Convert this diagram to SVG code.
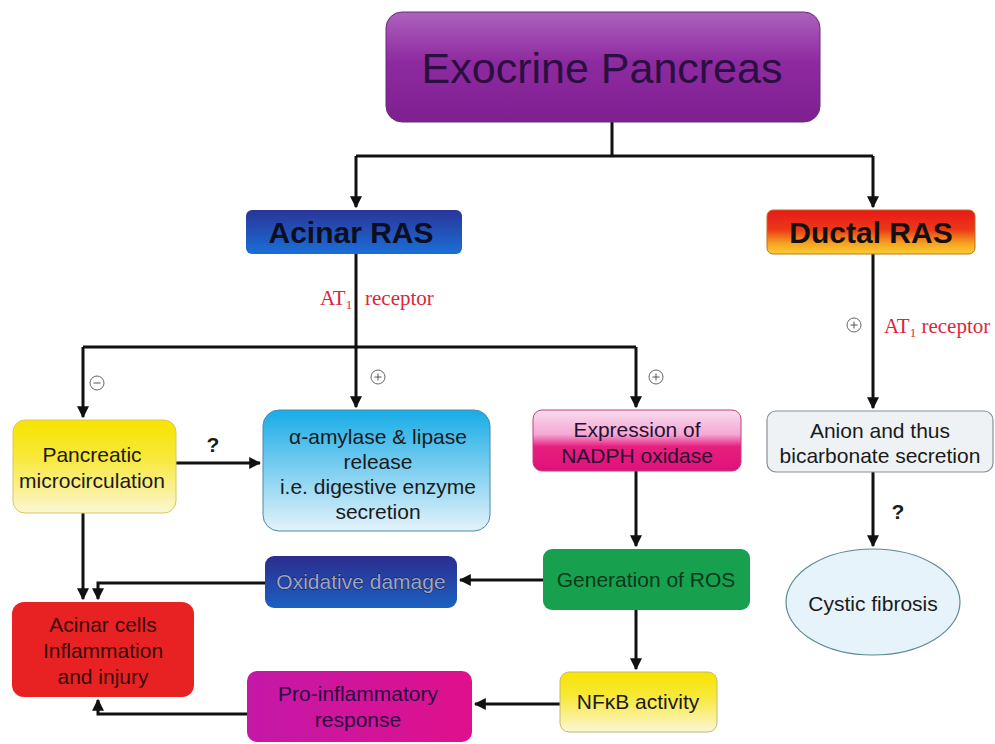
<svg xmlns="http://www.w3.org/2000/svg" width="995" height="744" viewBox="0 0 995 744">
<defs>
<linearGradient id="gPurple" x1="0" y1="0" x2="0" y2="1"><stop offset="0" stop-color="#ad62bd"/><stop offset="0.45" stop-color="#8e2aa0"/><stop offset="1" stop-color="#7e2090"/></linearGradient>
<linearGradient id="gAcinar" x1="0" y1="0" x2="0" y2="1"><stop offset="0" stop-color="#2a3598"/><stop offset="1" stop-color="#1a6fd8"/></linearGradient>
<linearGradient id="gDuctal" x1="0" y1="0" x2="0" y2="1"><stop offset="0" stop-color="#e81818"/><stop offset="0.45" stop-color="#ec3a18"/><stop offset="0.75" stop-color="#f5a020"/><stop offset="1" stop-color="#f8d030"/></linearGradient>
<linearGradient id="gYellow" x1="0" y1="0" x2="0" y2="1"><stop offset="0" stop-color="#f7e400"/><stop offset="0.4" stop-color="#f8e838"/><stop offset="1" stop-color="#fcf6d6"/></linearGradient>
<linearGradient id="gSky" x1="0" y1="0" x2="0" y2="1"><stop offset="0" stop-color="#18ace6"/><stop offset="1" stop-color="#e4f3fb"/></linearGradient>
<linearGradient id="gPink" x1="0" y1="0" x2="0" y2="1"><stop offset="0" stop-color="#f9dcef"/><stop offset="0.4" stop-color="#f4a8d4"/><stop offset="0.6" stop-color="#e6207f"/><stop offset="1" stop-color="#e0107a"/></linearGradient>
<linearGradient id="gNavy" x1="0" y1="0" x2="0" y2="1"><stop offset="0" stop-color="#2c2c8e"/><stop offset="1" stop-color="#1a62c2"/></linearGradient>
<linearGradient id="gMagenta" x1="0" y1="0" x2="1" y2="0"><stop offset="0" stop-color="#c418a8"/><stop offset="1" stop-color="#e0108c"/></linearGradient>
<marker id="arr" viewBox="0 0 10 10" refX="9" refY="5" markerWidth="4" markerHeight="4" orient="auto" markerUnits="strokeWidth"><path d="M0,0 L10,5 L0,10 z" fill="#111"/></marker>
</defs>
<style>
.t{font-family:"Liberation Sans",Arial,sans-serif;fill:#1a1a1a;text-anchor:middle;}
.b{font-size:21px;}
.edge{stroke:#111;stroke-width:3;fill:none;}
.red{font-family:"Liberation Serif","Times New Roman",serif;fill:#d8283a;font-size:21px;}
.sign{fill:#fff;stroke:#666;stroke-width:1;}
</style>
<rect width="995" height="744" fill="#fff"/>

<g id="connectors">
<path class="edge" d="M612,122 V156 M356,156 H873"/>
<path class="edge" d="M356,156 V207" marker-end="url(#arr)"/>
<path class="edge" d="M873,156 V207" marker-end="url(#arr)"/>
<path class="edge" d="M356,254 V347 M83,347 H636"/>
<path class="edge" d="M83,347 V417" marker-end="url(#arr)"/>
<path class="edge" d="M356,347 V407" marker-end="url(#arr)"/>
<path class="edge" d="M636,347 V407" marker-end="url(#arr)"/>
<path class="edge" d="M176,463 H260" marker-end="url(#arr)"/>
<path class="edge" d="M636,471 V546" marker-end="url(#arr)"/>
<path class="edge" d="M543,580 H460" marker-end="url(#arr)"/>
<path class="edge" d="M265,583 H98 V599" marker-end="url(#arr)"/>
<path class="edge" d="M83,513 V599" marker-end="url(#arr)"/>
<path class="edge" d="M636,610 V669" marker-end="url(#arr)"/>
<path class="edge" d="M560,704 H475" marker-end="url(#arr)"/>
<path class="edge" d="M247,714 H98 V700" marker-end="url(#arr)"/>
<path class="edge" d="M873,254 V408" marker-end="url(#arr)"/>
<path class="edge" d="M873,472 V546" marker-end="url(#arr)"/>
</g>

<g id="labels">
<text class="red" x="320" y="305">AT<tspan font-size="13" dy="4">1</tspan></text>
<text class="red" x="365" y="305">receptor</text>
<text class="red" x="884" y="333">AT<tspan font-size="13" dy="4">1</tspan><tspan dy="-4"> receptor</tspan></text>
<circle class="sign" cx="97" cy="383" r="7"/><line x1="93.5" y1="383" x2="100.5" y2="383" stroke="#555" stroke-width="1"/>
<circle class="sign" cx="378" cy="377" r="7"/><path d="M374.5,377 H381.5 M378,373.5 V380.5" stroke="#555" stroke-width="1"/>
<circle class="sign" cx="656" cy="377" r="7"/><path d="M652.5,377 H659.5 M656,373.5 V380.5" stroke="#555" stroke-width="1"/>
<circle class="sign" cx="854" cy="325" r="7"/><path d="M850.5,325 H857.5 M854,321.5 V328.5" stroke="#555" stroke-width="1"/>
<text class="t" x="213" y="452" font-size="21" font-weight="bold">?</text>
<text class="t" x="898" y="519" font-size="21" font-weight="bold">?</text>
</g>

<g id="exocrine">
<rect x="386" y="12" width="434" height="110" rx="16" fill="url(#gPurple)" stroke="#6a2a7a" stroke-width="1"/>
<text class="t" x="602" y="83" font-size="43" style="fill:#2a1040">Exocrine Pancreas</text>
</g>
<g id="acinar-ras">
<rect x="246" y="210" width="216" height="44" rx="6" fill="url(#gAcinar)"/>
<text class="t" x="351" y="243" font-size="30" font-weight="bold" style="fill:#0e0e22">Acinar RAS</text>
</g>
<g id="ductal-ras">
<rect x="767" y="210" width="208" height="44" rx="6" fill="url(#gDuctal)" stroke="#c07020" stroke-width="1"/>
<text class="t" x="871" y="243" font-size="30" font-weight="bold" style="fill:#111">Ductal RAS</text>
</g>
<g id="microcirculation">
<rect x="13" y="420" width="163" height="93" rx="12" fill="url(#gYellow)" stroke="#d8c860" stroke-width="1"/>
<text class="t b" x="92" y="462">Pancreatic</text>
<text class="t b" x="92" y="488">microcirculation</text>
</g>
<g id="amylase">
<rect x="263" y="410" width="227" height="121" rx="16" fill="url(#gSky)" stroke="#4a8aaa" stroke-width="1"/>
<text class="t b" x="378" y="444">α-amylase &amp; lipase</text>
<text class="t b" x="378" y="469">release</text>
<text class="t b" x="378" y="494">i.e. digestive enzyme</text>
<text class="t b" x="378" y="519">secretion</text>
</g>
<g id="nadph">
<rect x="533" y="410" width="208" height="61" rx="9" fill="url(#gPink)" stroke="#c0407a" stroke-width="1"/>
<text class="t b" x="637" y="437" style="fill:#2a1030">Expression of</text>
<text class="t b" x="637" y="463" style="fill:#2a1030">NADPH oxidase</text>
</g>
<g id="ros">
<rect x="543" y="549" width="207" height="61" rx="9" fill="#17a04e"/>
<text class="t b" x="646" y="587" style="fill:#0a3a1a">Generation of ROS</text>
</g>
<g id="oxidative">
<rect x="265" y="556" width="192" height="52" rx="9" fill="url(#gNavy)"/>
<text class="t b" x="361" y="589" style="fill:#9ea4c8;stroke:#141438;stroke-width:0.8;paint-order:stroke">Oxidative damage</text>
</g>
<g id="acinar-cells">
<rect x="12" y="602" width="182" height="95" rx="12" fill="#e82222"/>
<text class="t b" x="103" y="632" style="fill:#3a0a0a">Acinar cells</text>
<text class="t b" x="103" y="658" style="fill:#3a0a0a">Inflammation</text>
<text class="t b" x="103" y="684" style="fill:#3a0a0a">and injury</text>
</g>
<g id="nfkb">
<rect x="560" y="672" width="157" height="60" rx="9" fill="url(#gYellow)" stroke="#c8b870" stroke-width="1"/>
<text class="t b" x="638" y="709">NFκB activity</text>
</g>
<g id="proinflammatory">
<rect x="247" y="671" width="225" height="71" rx="10" fill="url(#gMagenta)"/>
<text class="t b" x="358" y="701" style="fill:#2a0a40">Pro-inflammatory</text>
<text class="t b" x="358" y="727" style="fill:#2a0a40">response</text>
</g>
<g id="anion">
<rect x="767" y="411" width="226" height="61" rx="9" fill="#eef2f5" stroke="#8a9098" stroke-width="1.2"/>
<text class="t b" x="880" y="438">Anion and thus</text>
<text class="t b" x="880" y="463">bicarbonate secretion</text>
</g>
<g id="cystic">
<ellipse cx="873" cy="602" rx="87" ry="53" fill="#e6f3fa" stroke="#5a8a90" stroke-width="1.2"/>
<text class="t b" x="873" y="611">Cystic fibrosis</text>
</g>
</svg>
